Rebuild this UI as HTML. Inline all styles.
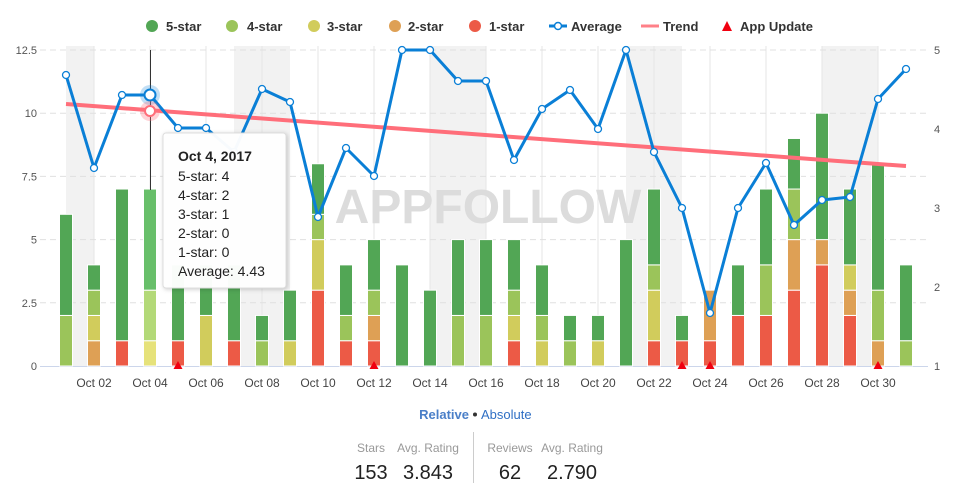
<!DOCTYPE html>
<html><head><meta charset="utf-8"><style>
body{margin:0;background:#fff;width:979px;height:495px;overflow:hidden;font-family:"Liberation Sans",sans-serif}
svg text{font-family:"Liberation Sans",sans-serif}
</style></head><body>
<svg id="s" width="979" height="495" xmlns="http://www.w3.org/2000/svg"></svg>
<script>
const s=document.getElementById('s');let h='';
const X=i=>66+28*i, Y=v=>366-v*25.28, R=v=>366-(v-1)*79;
[[66,94],[234,290],[430,486],[626,682],[822,878]].forEach(b=>h+=`<rect x="${b[0]}" y="46" width="${b[1]-b[0]}" height="320" fill="#f2f2f2"/>`);
for(let i=1;i<31;i+=2)h+=`<line x1="${X(i)}" y1="46" x2="${X(i)}" y2="366" stroke="#e6e6e6"/>`;
for(let k=1;k<=5;k++)h+=`<line x1="40" y1="${Y(k*2.5)}" x2="928" y2="${Y(k*2.5)}" stroke="#e0e0e0" stroke-dasharray="6,4"/>`;
h+=`<line x1="40" y1="366.5" x2="928" y2="366.5" stroke="#ccd6eb"/>`;
['0','2.5','5','7.5','10','12.5'].forEach((t,k)=>h+=`<text x="37" y="${Y(k*2.5)+4}" font-size="11" fill="#555" text-anchor="end">${t}</text>`);
for(let k=1;k<=5;k++)h+=`<text x="934" y="${R(k)+4}" font-size="11" fill="#555">${k}</text>`;
h+=`<text x="488" y="223" font-size="48" font-weight="bold" fill="#dcdcdc" text-anchor="middle">APPFOLLOW</text>`;
const d=[[0,0,0,2,4],[0,1,1,1,1],[1,0,0,0,6],[0,0,1,2,4],[1,0,0,0,3],[0,0,2,0,2],[1,0,0,0,3],[0,0,0,1,1],[0,0,1,0,2],[3,0,2,1,2],[1,0,0,1,2],[1,1,0,1,2],[0,0,0,0,4],[0,0,0,0,3],[0,0,0,2,3],[0,0,0,2,3],[1,0,1,1,2],[0,0,1,1,2],[0,0,0,1,1],[0,0,1,0,1],[0,0,0,0,5],[1,0,2,1,3],[1,0,0,0,1],[1,2,0,0,0],[2,0,0,0,2],[2,0,0,2,3],[3,2,0,2,2],[4,1,0,0,5],[2,1,1,0,3],[0,1,0,2,5],[0,0,0,1,3]];
const c=['#ec5a46','#dea055','#d1cc5c','#9bc45a','#52a655'];
const ch=['#ec5a46','#dea055','#e6e27a','#b3d978','#68bf6a'];
d.forEach((b,i)=>{let v=0;b.forEach((n,k)=>{if(!n)return;h+=`<rect x="${X(i)-6.5}" y="${Y(v+n)}" width="13" height="${n*25.28}" fill="${i==3?ch[k]:c[k]}" stroke="#fff" stroke-width="1"/>`;v+=n;});});
h+=`<line x1="150.5" y1="50" x2="150.5" y2="190" stroke="#333"/>`;
for(let i=1;i<31;i+=2)h+=`<text x="${X(i)}" y="387" font-size="12" fill="#444" text-anchor="middle">Oct ${String(i+1).padStart(2,'0')}</text>`;
[4,11,22,23,29].forEach(i=>h+=`<polygon points="${X(i)-4.5},369 ${X(i)+4.5},369 ${X(i)},361" fill="#f00010"/>`);
h+=`<line x1="66" y1="104" x2="906" y2="166" stroke="#ff6e7a" stroke-width="4"/>`;
const a=[75,168,95,95,128,128,152,89,102,217,148,176,50,50,81,81,160,109,90,129,50,152,208,313,208,163,225,200,197,99,69];
h+=`<polyline points="${a.map((y,i)=>X(i)+','+y).join(' ')}" fill="none" stroke="#0a7fd6" stroke-width="3" stroke-linejoin="round"/>`;
a.forEach((y,i)=>{if(i!=3)h+=`<circle cx="${X(i)}" cy="${y}" r="3.5" fill="#fff" stroke="#0a7fd6" stroke-width="1.3"/>`});
h+=`<circle cx="150" cy="95" r="10" fill="#0a7fd6" opacity="0.25"/><circle cx="150" cy="95" r="5.5" fill="#fff" stroke="#0a7fd6" stroke-width="2"/>`;
h+=`<circle cx="150" cy="111" r="10" fill="#ff6e7a" opacity="0.3"/><circle cx="150" cy="111" r="5" fill="#fff" stroke="#ff6e7a" stroke-width="2"/>`;
h+=`<rect x="163" y="133" width="123" height="155" rx="3" fill="#fff" fill-opacity="0.97" stroke="#ddd" style="filter:drop-shadow(1px 1px 2px rgba(0,0,0,.2))"/>`;
h+=`<text x="178" y="161" font-size="14" font-weight="bold" fill="#222">Oct 4, 2017</text>`;
['5-star: 4','4-star: 2','3-star: 1','2-star: 0','1-star: 0','Average: 4.43'].forEach((t,k)=>h+=`<text x="178" y="${181+k*19}" font-size="14" fill="#222">${t}</text>`);
const L=[['5-star','#52a655',152,166],['4-star','#9bc45a',232,247],['3-star','#d1cc5c',314,327],['2-star','#dea055',395,408],['1-star','#ec5a46',475,489]];
L.forEach(l=>h+=`<circle cx="${l[2]}" cy="26" r="6" fill="${l[1]}"/><text x="${l[3]}" y="31" font-size="13" font-weight="bold" fill="#333">${l[0]}</text>`);
h+=`<line x1="549" y1="26" x2="567" y2="26" stroke="#0a7fd6" stroke-width="3"/><circle cx="558" cy="26" r="3.5" fill="#fff" stroke="#0a7fd6" stroke-width="1.5"/><text x="571" y="31" font-size="13" font-weight="bold" fill="#333">Average</text>`;
h+=`<line x1="641" y1="26" x2="659" y2="26" stroke="#ff8088" stroke-width="3"/><text x="663" y="31" font-size="13" font-weight="bold" fill="#333">Trend</text>`;
h+=`<polygon points="722,31 732,31 727,21" fill="#f00010"/><text x="740" y="31" font-size="13" font-weight="bold" fill="#333">App Update</text>`;
h+=`<text x="469" y="419" font-size="13" font-weight="bold" fill="#4a7fc8" text-anchor="end">Relative</text><circle cx="475" cy="414.5" r="2" fill="#333"/><text x="481" y="419" font-size="13" fill="#2f6fc4">Absolute</text>`;
h+=`<line x1="473.5" y1="432" x2="473.5" y2="483" stroke="#ccc"/>`;
[['Stars',371,'153'],['Avg. Rating',428,'3.843'],['Reviews',510,'62'],['Avg. Rating',572,'2.790']].forEach(t=>h+=`<text x="${t[1]}" y="452" font-size="12" fill="#999" text-anchor="middle">${t[0]}</text><text x="${t[1]}" y="479" font-size="20" fill="#222" text-anchor="middle">${t[2]}</text>`);
s.innerHTML=h;
</script>
</body></html>
